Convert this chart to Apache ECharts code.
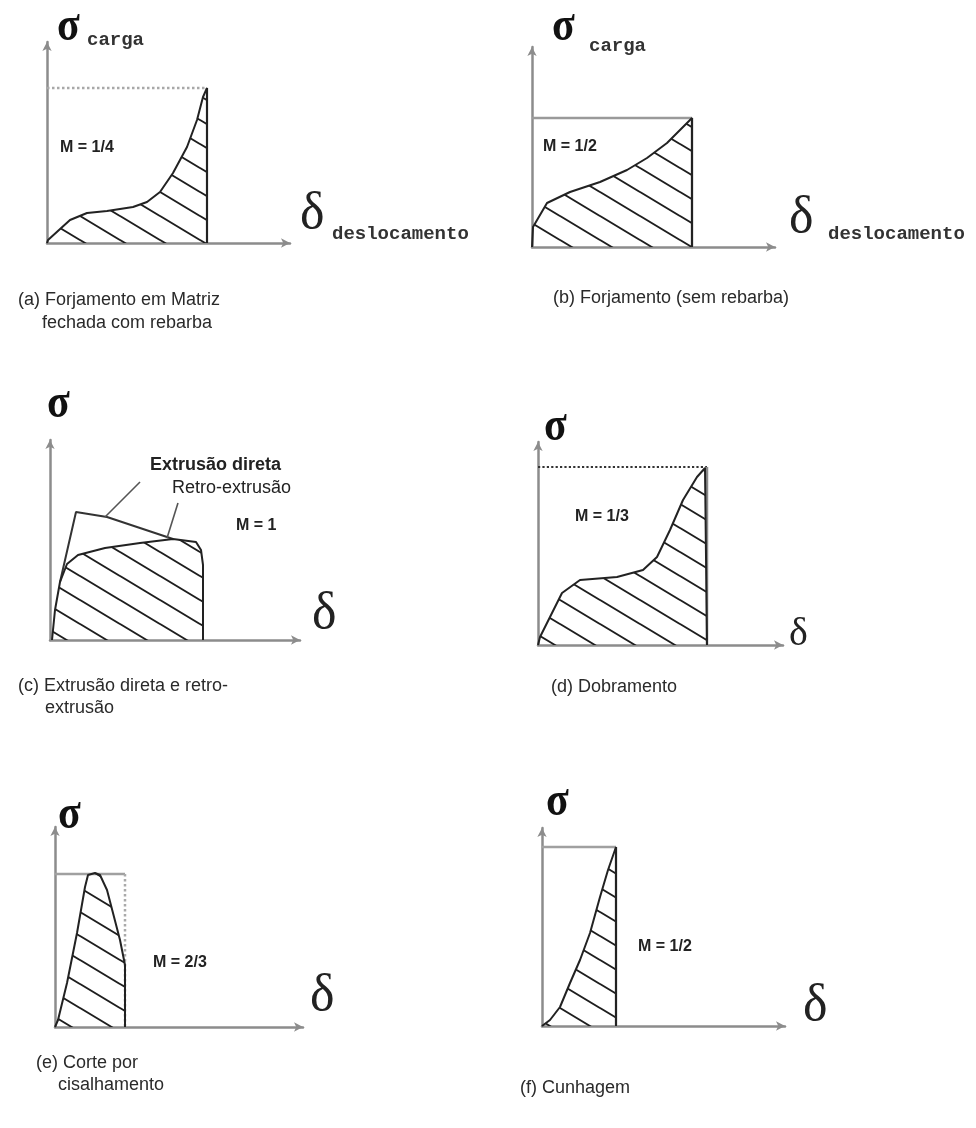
<!DOCTYPE html>
<html><head><meta charset="utf-8">
<script src="https://cdn.jsdelivr.net/npm/echarts@6/dist/echarts.min.js"></script>
<style>html,body{margin:0;background:#fff}#c{width:976px;height:1128px}</style>
</head><body><div id="c"></div>
<script>
// ---- data (units = axis length units) ----
const curveA = [[0,0],[1,3],[23,23],[40,30],[60,32],[86,36],[100,41],[113,51],[126,70],[140,96],[150,123],[156,146],[160,155],[160,0]];
const boxA = [160,155];
const curveB = [[0,0],[1,20],[15,44],[38,55],[68,65],[95,77],[115,89],[135,104],[148,117],[160,129],[160,0]];
const boxB = [160,129];
const retroC = [[2,0],[5,30],[10,58],[17,76],[28,85],[55,92],[90,97],[123,101],[146,98],[151,90],[153,75],[153,0]];
const directC = [[10,58],[26,128],[57,123],[123,101]];
const leaderDirectC = [[55,123],[90,158]];
const leaderRetroC = [[117,102],[128,137]];
const curveD = [[0,0],[2,8],[12,28],[24,52],[42,65],[79,68],[105,75],[119,88],[132,115],[145,145],[159,168],[167,177],[169,178],[169,0]];
const boxD = [169,178];
const curveE = [[0,0],[3,7],[12,44],[22,94],[30,140],[33,152],[40,154],[45,152],[52,137],[58,114],[65,87],[70,62],[70,0]];
const boxE = [70,153];
const curveF = [[0,0],[8,6],[18,19],[28,43],[38,66],[48,93],[58,129],[66,156],[74,179],[74,0]];
const boxF = [74,179];
const mLabels = ['M = 1/4','M = 1/2','M = 1','M = 1/3','M = 2/3','M = 1/2'];
const captions = [
  ['(a) Forjamento em Matriz','fechada com rebarba'],
  ['(b) Forjamento (sem rebarba)'],
  ['(c) Extrusão direta e retro-','extrusão'],
  ['(d) Dobramento'],
  ['(e) Corte por','cisalhamento'],
  ['(f) Cunhagem']
];
const curveLabels = ['Extrusão direta','Retro-extrusão'];

// ---- layout ----
const grids = [
  {left:47, top:42, width:243, height:201},
  {left:532, top:47, width:243, height:200},
  {left:50, top:440, width:250, height:200},
  {left:538, top:442, width:245, height:203},
  {left:55, top:827, width:248, height:200},
  {left:542, top:828, width:243, height:198}
];

function hatch(){
  const w=40,h=24,c=document.createElement('canvas');c.width=w;c.height=h;
  const g=c.getContext('2d');g.strokeStyle='#1e1e1e';g.lineWidth=1.9;g.beginPath();
  [[0,0,40,24],[-40,0,40,48],[0,-24,80,24]].forEach(s=>{g.moveTo(s[0],s[1]);g.lineTo(s[2],s[3]);});
  g.stroke();return c;
}
const pat = {image:hatch(), repeat:'repeat'};

const AX = '#8c8c8c';
const xAxis = grids.map((g,i)=>({type:'value',gridIndex:i,min:0,max:g.width,
  axisLine:{show:true,onZero:false,symbol:['none','arrow'],symbolSize:[7,9],lineStyle:{color:AX,width:2.5}},
  axisTick:{show:false},axisLabel:{show:false},splitLine:{show:false}}));
const yAxis = grids.map((g,i)=>({type:'value',gridIndex:i,min:0,max:g.height,
  axisLine:{show:true,onZero:false,symbol:['none','arrow'],symbolSize:[7,9],lineStyle:{color:AX,width:2.5}},
  axisTick:{show:false},axisLabel:{show:false},splitLine:{show:false}}));

function curve(i,data,fill){
  return {type:'line',xAxisIndex:i,yAxisIndex:i,data,symbol:'none',z:3,
    lineStyle:{color:'#222',width:2},areaStyle: fill?{color:pat,opacity:1}:undefined};
}
function seg(i,data,color,type,width){
  return {type:'line',xAxisIndex:i,yAxisIndex:i,data,symbol:'none',z:2,
    lineStyle:{color,width:width||2,type:type||'solid'}};
}
function box(i,b,topStyle,sideStyle){
  return [seg(i,[[0,b[1]],[b[0],b[1]]],topStyle[0],topStyle[1],topStyle[2]),
          seg(i,[[b[0],b[1]],[b[0],0]],sideStyle[0],sideStyle[1],sideStyle[2])];
}
const series = [
  curve(0,curveA,true), ...box(0,boxA,['#a8a8a8','dotted',2.5],['#333','solid',2.2]),
  curve(1,curveB,true), ...box(1,boxB,['#9a9a9a','solid',2.5],['#8a8a8a','solid',2.5]),
  curve(2,retroC,true), seg(2,directC,'#333','solid',2), seg(2,leaderDirectC,'#555','solid',1.6), seg(2,leaderRetroC,'#555','solid',1.6),
  curve(3,curveD,true), ...box(3,boxD,['#333','dotted',2.2],['#8a8a8a','solid',2.5]),
  curve(4,curveE,true), ...box(4,boxE,['#a0a0a0','solid',2.5],['#aaa','dotted',2.5]),
  curve(5,curveF,true), ...box(5,boxF,['#a0a0a0','solid',2.5],['#999','solid',2.5])
];

function T(x,y,text,font,fill,extra){
  return Object.assign({type:'text',x,y,z:10,style:{text,font,fill:fill||'#222',verticalAlign:'middle',align:'left'}},extra||{});
}
const SIG='bold 44px "Liberation Serif"', DEL='52px "Liberation Serif"', MONO='bold 19px "Liberation Mono"';
const MF='bold 16px "Liberation Sans"', CF='18px "Liberation Sans"';
const sg = {scaleX:0.95, scaleY:1.12};
const graphic = [
  T(57,27,'σ',SIG,'#111',sg), T(87,40,'carga',MONO,'#333'),
  T(60,148,mLabels[0],MF),
  T(300,214,'δ',DEL), T(332,234,'deslocamento',MONO,'#333'),
  T(552,27,'σ',SIG,'#111',sg), T(589,46,'carga',MONO,'#333'),
  T(543,147,mLabels[1],MF),
  T(789,218,'δ',DEL), T(828,234,'deslocamento',MONO,'#333'),
  T(18,300,captions[0][0],CF,'#2a2a2a'), T(42,323,captions[0][1],CF,'#2a2a2a'),
  T(553,298,captions[1][0],CF,'#2a2a2a'),
  T(47,404,'σ',SIG,'#111',sg),
  T(150,465,curveLabels[0],'bold 18px "Liberation Sans"','#222'),
  T(172,488,curveLabels[1],'18px "Liberation Sans"','#222'),
  T(236,526,mLabels[2],MF),
  T(312,614,'δ',DEL),
  T(18,686,captions[2][0],CF,'#2a2a2a'), T(45,708,captions[2][1],CF,'#2a2a2a'),
  T(544,427,'σ',SIG,'#111',sg),
  T(575,517,mLabels[3],MF),
  T(789,634,'δ','40px "Liberation Serif"'),
  T(551,687,captions[3][0],CF,'#2a2a2a'),
  T(58,815,'σ',SIG,'#111',sg),
  T(153,963,mLabels[4],MF),
  T(310,996,'δ',DEL),
  T(36,1063,captions[4][0],CF,'#2a2a2a'), T(58,1085,captions[4][1],CF,'#2a2a2a'),
  T(546,802,'σ',SIG,'#111',sg),
  T(638,947,mLabels[5],MF),
  T(803,1006,'δ',DEL),
  T(520,1088,captions[5][0],CF,'#2a2a2a')
];

const chart = echarts.init(document.getElementById('c'),null,{renderer:'canvas'});
chart.setOption({animation:false,backgroundColor:'#fff',grid:grids,xAxis,yAxis,series,graphic});
</script></body></html>
